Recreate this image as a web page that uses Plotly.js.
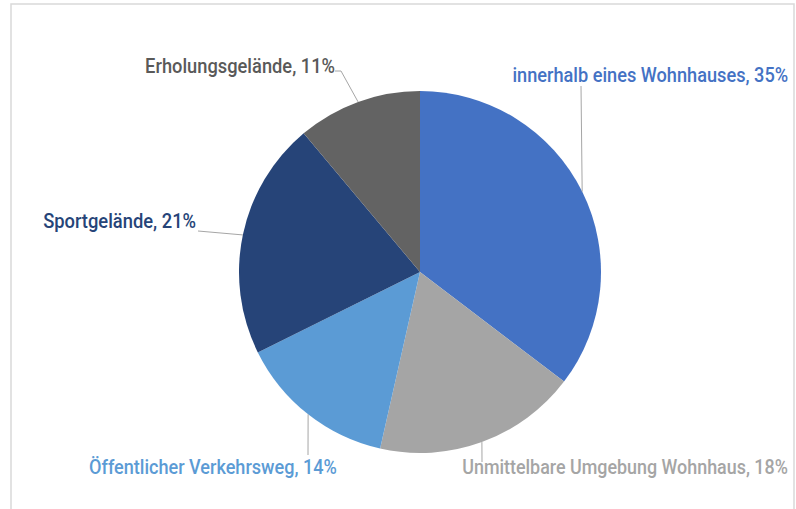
<!DOCTYPE html>
<html>
<head>
<meta charset="utf-8">
<script src="https://cdn.plot.ly/plotly-3.0.1.min.js"></script>
<style>
  html, body { margin: 0; padding: 0; background: #fff; }
  #chart { width: 796px; height: 509px; }
</style>
</head>
<body>
<div id="chart"></div>
<script>
// Daten
const kategorien = [
  "innerhalb eines Wohnhauses",
  "Unmittelbare Umgebung Wohnhaus",
  "Öffentlicher Verkehrsweg",
  "Sportgelände",
  "Erholungsgelände"
];
const anteile = [35, 18, 14, 21, 11];
const farben = ["#4472C4", "#A5A5A5", "#5B9BD5", "#264478", "#636363"];
const textFarben = ["#4472C4", "#A5A5A5", "#5B9BD5", "#264478", "#595959"];

// Lage der Beschriftungen (Pixel): Textmitte, Breite, Knickpunkt der Linie
const labelPos = [
  { x: 650, y: 75, w: 276, knick: [581, 86] },
  { x: 625, y: 467, w: 326, knick: [482, 462] },
  { x: 213, y: 467, w: 248, knick: [308, 455] },
  { x: 119, y: 221, w: 153, knick: [198, 231] },
  { x: 240, y: 66, w: 190, knick: [341, 71], ende: [335, 71] }
];

const W = 796, H = 509;
const cx = 420, cy = 272, r = 181;
const px = (x) => x / W;
const py = (y) => 1 - y / H;

const summe = anteile.reduce((a, b) => a + b, 0);
const shapes = [];
const annotations = [];
let start = 0;
anteile.forEach((v, i) => {
  const mitte = (start + v / 2) / summe * 2 * Math.PI;
  start += v;
  const ex = cx + r * Math.sin(mitte);
  const ey = cy - r * Math.cos(mitte);
  const p = labelPos[i];
  // Führungslinie vom Segmentrand zum Knick
  shapes.push({
    type: "line", xref: "paper", yref: "paper",
    x0: px(ex), y0: py(ey), x1: px(p.knick[0]), y1: py(p.knick[1]),
    line: { color: "#A6A6A6", width: 1 }
  });
  if (p.ende) {
    shapes.push({
      type: "line", xref: "paper", yref: "paper",
      x0: px(p.knick[0]), y0: py(p.knick[1]), x1: px(p.ende[0]), y1: py(p.ende[1]),
      line: { color: "#A6A6A6", width: 1 }
    });
  }
  annotations.push({
    xref: "paper", yref: "paper",
    x: px(p.x), y: py(p.y),
    xanchor: "center", yanchor: "middle",
    text: kategorien[i] + ", " + v + "%",
    showarrow: false,
    font: { color: textFarben[i], size: 21, weight: 500, family: "Roboto, DejaVu Sans Condensed, sans-serif" }
  });
});

// Rahmen
shapes.push({
  type: "rect", xref: "paper", yref: "paper",
  x0: px(11), x1: px(794), y0: py(4), y1: py(H + 10),
  line: { color: "#D9D9D9", width: 1.5 }
});

const data = [{
  type: "pie",
  labels: kategorien,
  values: anteile,
  marker: { colors: farben, line: { width: 0 } },
  sort: false,
  direction: "clockwise",
  rotation: 0,
  textinfo: "none",
  hoverinfo: "label+percent",
  domain: { x: [px(cx - r), px(cx + r)], y: [py(cy + r), py(cy - r)] }
}];

const layout = {
  width: W,
  height: H,
  margin: { t: 0, r: 0, b: 0, l: 0 },
  showlegend: false,
  paper_bgcolor: "#fff",
  shapes: shapes,
  annotations: annotations
};

Plotly.newPlot("chart", data, layout, { displayModeBar: false, staticPlot: true }).then(() => {
  // schmale Schrift nachbilden: Texte horizontal stauchen
  document.querySelectorAll("#chart .annotation-text").forEach((t, i) => {
    const bb = t.getBBox();
    const k = labelPos[i].w / bb.width;
    const c = bb.x + bb.width / 2;
    t.setAttribute("transform", `translate(${c},0) scale(${k},1) translate(${-c},0)`);
  });
});
</script>
</body>
</html>
